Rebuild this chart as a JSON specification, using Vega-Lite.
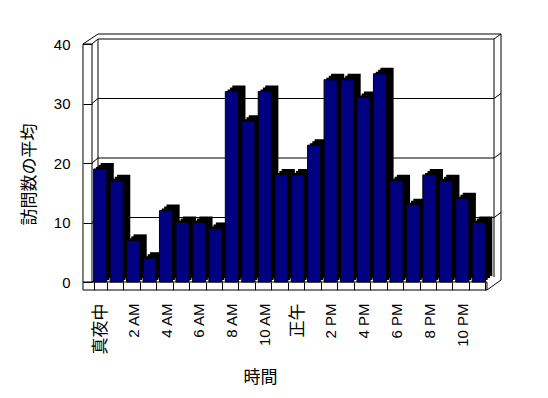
{
  "$schema": "https://vega.github.io/schema/vega-lite/v6.json",
  "width": 395,
  "height": 238,
  "autosize": {"type": "none"},
  "padding": {"left": 92, "top": 44, "right": 61, "bottom": 116},
  "background": "white",
  "view": {"stroke": null},
  "config": {"font": "Liberation Sans, Noto Sans CJK JP, sans-serif", "rule": {"color": "black", "strokeWidth": 1}},
  "datasets": {
    "hours": [
      {"hour": "真夜中", "avg": 19}, {"hour": "1 AM", "avg": 17}, {"hour": "2 AM", "avg": 7}, {"hour": "3 AM", "avg": 4},
      {"hour": "4 AM", "avg": 12}, {"hour": "5 AM", "avg": 10}, {"hour": "6 AM", "avg": 10}, {"hour": "7 AM", "avg": 9},
      {"hour": "8 AM", "avg": 32}, {"hour": "9 AM", "avg": 27}, {"hour": "10 AM", "avg": 32}, {"hour": "11 AM", "avg": 18},
      {"hour": "正午", "avg": 18}, {"hour": "1 PM", "avg": 23}, {"hour": "2 PM", "avg": 34}, {"hour": "3 PM", "avg": 34},
      {"hour": "4 PM", "avg": 31}, {"hour": "5 PM", "avg": 35}, {"hour": "6 PM", "avg": 17}, {"hour": "7 PM", "avg": 13},
      {"hour": "8 PM", "avg": 18}, {"hour": "9 PM", "avg": 17}, {"hour": "10 PM", "avg": 14}, {"hour": "11 PM", "avg": 10}
    ],
    "yticks": [{"v": 0}, {"v": 10}, {"v": 20}, {"v": 30}, {"v": 40}],
    "grid": [{"v": 10}, {"v": 20}, {"v": 30}],
    "one": [{}]
  },
  "layer": [
    {
      "data": {"name": "one"},
      "mark": {"type": "rule", "xOffset": -2.23, "x2Offset": 22.23, "yOffset": -10},
      "encoding": {
        "x": {"datum": "真夜中", "type": "nominal", "title": "時間"},
        "x2": {"datum": "11 PM"},
        "y": {"datum": 40, "type": "quantitative", "scale": {"domain": [0, 40], "nice": false}, "title": "訪問数の平均"}
      }
    },
    {
      "data": {"name": "one"},
      "mark": {"type": "rule", "xOffset": -2.23, "x2Offset": 15.23, "yOffset": -5},
      "encoding": {
        "x": {"datum": "真夜中", "type": "nominal", "title": "時間"},
        "x2": {"datum": "11 PM"},
        "y": {"datum": 40, "type": "quantitative", "title": "訪問数の平均"}
      }
    },
    {
      "data": {"name": "grid"},
      "mark": {"type": "rule", "xOffset": -2.23, "x2Offset": 15.23, "yOffset": -5},
      "encoding": {
        "x": {"datum": "真夜中", "type": "nominal", "title": "時間"},
        "x2": {"datum": "11 PM"},
        "y": {"field": "v", "type": "quantitative", "title": "訪問数の平均"}
      }
    },
    {
      "data": {"name": "one"},
      "mark": {"type": "rule", "xOffset": -2.23, "yOffset": -5, "y2Offset": -5},
      "encoding": {
        "x": {"datum": "真夜中", "type": "nominal", "title": "時間"},
        "y": {"datum": 40, "type": "quantitative", "title": "訪問数の平均"},
        "y2": {"datum": 0}
      }
    },
    {
      "data": {"name": "one"},
      "mark": {"type": "rule", "xOffset": 15.23, "yOffset": -5, "y2Offset": -5},
      "encoding": {
        "x": {"datum": "11 PM", "type": "nominal", "title": "時間"},
        "y": {"datum": 40, "type": "quantitative", "title": "訪問数の平均"},
        "y2": {"datum": 0}
      }
    },
    {
      "data": {"name": "one"},
      "mark": {"type": "rule", "xOffset": 22.23, "yOffset": -10, "y2Offset": -2},
      "encoding": {
        "x": {"datum": "11 PM", "type": "nominal", "title": "時間"},
        "y": {"datum": 40, "type": "quantitative", "title": "訪問数の平均"},
        "y2": {"datum": 0}
      }
    },
    {
      "data": {"name": "yticks"},
      "mark": {"type": "rule", "xOffset": -8.23, "x2Offset": -2.23, "y2Offset": -5},
      "encoding": {
        "x": {"datum": "真夜中", "type": "nominal", "title": "時間"},
        "x2": {"datum": "真夜中"},
        "y": {"field": "v", "type": "quantitative", "title": "訪問数の平均"},
        "y2": {"field": "v"}
      }
    },
    {
      "data": {"name": "yticks"},
      "transform": [{"filter": "datum.v > 0"}],
      "mark": {"type": "rule", "xOffset": 15.23, "x2Offset": 22.23, "yOffset": -5, "y2Offset": -10},
      "encoding": {
        "x": {"datum": "11 PM", "type": "nominal", "title": "時間"},
        "x2": {"datum": "11 PM"},
        "y": {"field": "v", "type": "quantitative", "title": "訪問数の平均"},
        "y2": {"field": "v"}
      }
    },
    {
      "data": {"name": "one"},
      "mark": {"type": "rule", "xOffset": -17.23, "x2Offset": -2.23, "y2Offset": -10},
      "encoding": {
        "x": {"datum": "真夜中", "type": "nominal", "title": "時間"},
        "x2": {"datum": "真夜中"},
        "y": {"datum": 40, "type": "quantitative", "title": "訪問数の平均"},
        "y2": {"datum": 40}
      }
    },
    {
      "data": {"name": "one"},
      "mark": {"type": "rule", "xOffset": -17.23, "y2Offset": 8},
      "encoding": {
        "x": {"datum": "真夜中", "type": "nominal", "title": "時間"},
        "y": {"datum": 40, "type": "quantitative", "title": "訪問数の平均"},
        "y2": {"datum": 0}
      }
    },
    {
      "data": {"name": "one"},
      "mark": {"type": "rule", "xOffset": -8.23},
      "encoding": {
        "x": {"datum": "真夜中", "type": "nominal", "title": "時間"},
        "y": {"datum": 40, "type": "quantitative", "title": "訪問数の平均"},
        "y2": {"datum": 0}
      }
    },
    {
      "data": {"name": "one"},
      "mark": {"type": "rule", "xOffset": -17.23, "x2Offset": -8.23},
      "encoding": {
        "x": {"datum": "真夜中", "type": "nominal", "title": "時間"},
        "x2": {"datum": "真夜中"},
        "y": {"datum": 40, "type": "quantitative", "title": "訪問数の平均"}
      }
    },
    {
      "data": {"name": "one"},
      "mark": {"type": "rule", "xOffset": -17.23, "x2Offset": 8.23},
      "encoding": {
        "x": {"datum": "真夜中", "type": "nominal", "title": "時間"},
        "x2": {"datum": "11 PM"},
        "y": {"datum": 0, "type": "quantitative", "title": "訪問数の平均"}
      }
    },
    {
      "data": {"name": "one"},
      "mark": {"type": "rule", "xOffset": -17.23, "x2Offset": 8.23, "yOffset": 8},
      "encoding": {
        "x": {"datum": "真夜中", "type": "nominal", "title": "時間"},
        "x2": {"datum": "11 PM"},
        "y": {"datum": 0, "type": "quantitative", "title": "訪問数の平均"}
      }
    },
    {
      "data": {"name": "one"},
      "mark": {"type": "rule", "xOffset": 8.23, "y2Offset": 8},
      "encoding": {
        "x": {"datum": "11 PM", "type": "nominal", "title": "時間"},
        "y": {"datum": 0, "type": "quantitative", "title": "訪問数の平均"},
        "y2": {"datum": 0}
      }
    },
    {
      "data": {"name": "one"},
      "mark": {"type": "rule", "xOffset": 8.23, "x2Offset": 22.23, "yOffset": 8, "y2Offset": -2},
      "encoding": {
        "x": {"datum": "11 PM", "type": "nominal", "title": "時間"},
        "x2": {"datum": "11 PM"},
        "y": {"datum": 0, "type": "quantitative", "title": "訪問数の平均"},
        "y2": {"datum": 0}
      }
    },
    {
      "data": {"name": "hours"},
      "mark": {"type": "bar", "color": "black", "xOffset": 2.3, "yOffset": -2},
      "encoding": {
        "x": {"field": "hour", "type": "nominal", "title": "時間"},
        "y": {"field": "avg", "type": "quantitative", "title": "訪問数の平均"}
      }
    },
    {
      "data": {"name": "hours"},
      "mark": {"type": "bar", "color": "black", "xOffset": 4.7, "yOffset": -4},
      "encoding": {
        "x": {"field": "hour", "type": "nominal", "title": "時間"},
        "y": {"field": "avg", "type": "quantitative", "title": "訪問数の平均"}
      }
    },
    {
      "data": {"name": "hours"},
      "mark": {"type": "bar", "color": "black", "xOffset": 7, "yOffset": -6},
      "encoding": {
        "x": {"field": "hour", "type": "nominal", "title": "時間"},
        "y": {"field": "avg", "type": "quantitative", "title": "訪問数の平均"}
      }
    },
    {
      "data": {"name": "hours"},
      "mark": {"type": "bar", "fill": "#000080", "stroke": "black", "strokeWidth": 1},
      "encoding": {
        "x": {
          "field": "hour",
          "type": "nominal",
          "title": "時間",
          "scale": {
            "domain": ["真夜中", "1 AM", "2 AM", "3 AM", "4 AM", "5 AM", "6 AM", "7 AM", "8 AM", "9 AM", "10 AM", "11 AM", "正午", "1 PM", "2 PM", "3 PM", "4 PM", "5 PM", "6 PM", "7 PM", "8 PM", "9 PM", "10 PM", "11 PM"],
            "paddingInner": 0.2,
            "paddingOuter": 0.1
          },
          "axis": {
            "labelAngle": -90,
            "labelAlign": "right",
            "labelBaseline": "middle",
            "tickBand": "extent",
            "tickExtra": true,
            "tickSize": 8,
            "tickColor": "black",
            "domain": false,
            "grid": false,
            "labelPadding": 13,
            "labelOverlap": false,
            "labelColor": "black",
            "labelExpr": "indexof(['1 AM','3 AM','5 AM','7 AM','9 AM','11 AM','1 PM','3 PM','5 PM','7 PM','9 PM','11 PM'], datum.value) >= 0 ? '' : datum.label",
            "labelFontSize": {"condition": {"test": "datum.value === '真夜中' || datum.value === '正午'", "value": 17}, "value": 15},
            "titleFont": "Noto Sans CJK JP",
            "titleFontSize": 17,
            "titleFontWeight": "normal",
            "titleColor": "black",
            "titleX": 168,
            "titleY": 95,
            "titleAlign": "center",
            "titleBaseline": "middle",
            "zindex": 1
          }
        },
        "y": {
          "field": "avg",
          "type": "quantitative",
          "title": "訪問数の平均",
          "axis": {
            "values": [0, 10, 20, 30, 40],
            "tickSize": 9,
            "tickColor": "black",
            "domain": false,
            "grid": false,
            "labelPadding": 13,
            "labelFontSize": 15,
            "labelColor": "black",
            "titleFont": "Noto Sans CJK JP",
            "titleFontSize": 17,
            "titleFontWeight": "normal",
            "titleColor": "black",
            "titleX": -63,
            "titleY": 130,
            "titleAngle": 270,
            "titleAlign": "center",
            "titleBaseline": "middle",
            "zindex": 1
          }
        }
      }
    }
  ]
}
